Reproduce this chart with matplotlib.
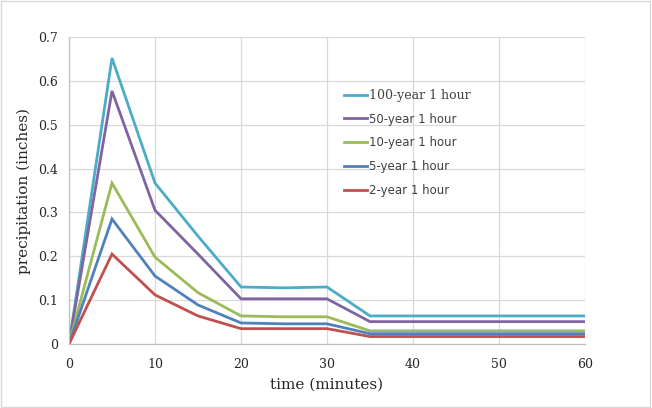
import matplotlib
matplotlib.use("Agg")
import matplotlib.pyplot as plt
from matplotlib.lines import Line2D
from matplotlib.font_manager import FontProperties

time_min = [0, 5, 10, 15, 20, 25, 30, 35, 40, 45, 50, 55, 60]
series_names = ["100-year 1 hour", "50-year 1 hour", "10-year 1 hour", "5-year 1 hour", "2-year 1 hour"]
p100 = [0, 0.652, 0.367, 0.246, 0.130, 0.128, 0.130, 0.064, 0.064, 0.064, 0.064, 0.064, 0.064]
p50 = [0, 0.577, 0.305, 0.205, 0.103, 0.103, 0.103, 0.051, 0.051, 0.051, 0.051, 0.051, 0.051]
p10 = [0, 0.367, 0.198, 0.117, 0.064, 0.062, 0.062, 0.030, 0.030, 0.030, 0.030, 0.030, 0.030]
p5 = [0, 0.285, 0.155, 0.089, 0.048, 0.046, 0.046, 0.0235, 0.0235, 0.0235, 0.0235, 0.0235, 0.0235]
p2 = [0, 0.205, 0.112, 0.064, 0.035, 0.035, 0.035, 0.017, 0.017, 0.017, 0.017, 0.017, 0.017]
x_ticks = [0, 10, 20, 30, 40, 50, 60]
y_ticks = [0, 0.1, 0.2, 0.3, 0.4, 0.5, 0.6, 0.7]
y_tick_labels = ["0", "0.1", "0.2", "0.3", "0.4", "0.5", "0.6", "0.7"]

colors = ["#4BACC6", "#8064A2", "#9BBB59", "#4F81BD", "#C0504D"]
serif = ["DejaVu Serif"]

fig = plt.figure(figsize=(6.52, 4.08), dpi=100)
fig.patch.set_facecolor("white")
fig.add_artist(plt.Rectangle((0.002, 0.003), 0.995, 0.994, transform=fig.transFigure,
                             fill=False, edgecolor="#D9D9D9", linewidth=1.0))

ax = fig.add_axes([69/652, 64/408, (585-69)/652, (344-37)/408])
ax.set_xlim(0, 60)
ax.set_ylim(0, 0.7)
ax.set_xticks(x_ticks)
ax.set_yticks(y_ticks)
ax.set_yticklabels(y_tick_labels)
ax.grid(True, color="#D9D9D9", linewidth=0.9)
ax.set_axisbelow(True)
for s in ["top", "right"]:
    ax.spines[s].set_visible(False)
for s in ["left", "bottom"]:
    ax.spines[s].set_color("#BFBFBF")
    ax.spines[s].set_linewidth(0.9)
ax.tick_params(length=0, labelsize=9, labelcolor="#262626")
ax.tick_params(axis="x", pad=10)
ax.tick_params(axis="y", pad=8)
for lab in ax.get_xticklabels() + ax.get_yticklabels():
    lab.set_fontfamily(serif)

data = [p100, p50, p10, p5, p2]
for name, vals, c in zip(series_names, data, colors):
    ax.plot(time_min, vals, color=c, linewidth=2.0, label=name, solid_joinstyle="miter")

ax.set_xlabel("time (minutes)", fontfamily=serif, fontsize=11, color="#262626", labelpad=5)
ax.set_ylabel("precipitation (inches)", fontfamily=serif, fontsize=11, color="#262626", labelpad=5)

handles = [Line2D([0], [0], color=c, linewidth=2.0) for c in colors]
leg = ax.legend(handles, series_names, loc="upper left", bbox_to_anchor=(0.512, 0.866),
                frameon=False, handlelength=2.0, handletextpad=0.1, labelspacing=0.92,
                prop=FontProperties(family="DejaVu Sans", size=8.5))
for i, t in enumerate(leg.get_texts()):
    t.set_color("#404040")
    if i == 0:
        t.set_fontproperties(FontProperties(family="DejaVu Serif", size=9))

fig.savefig("out.png", dpi=100)
